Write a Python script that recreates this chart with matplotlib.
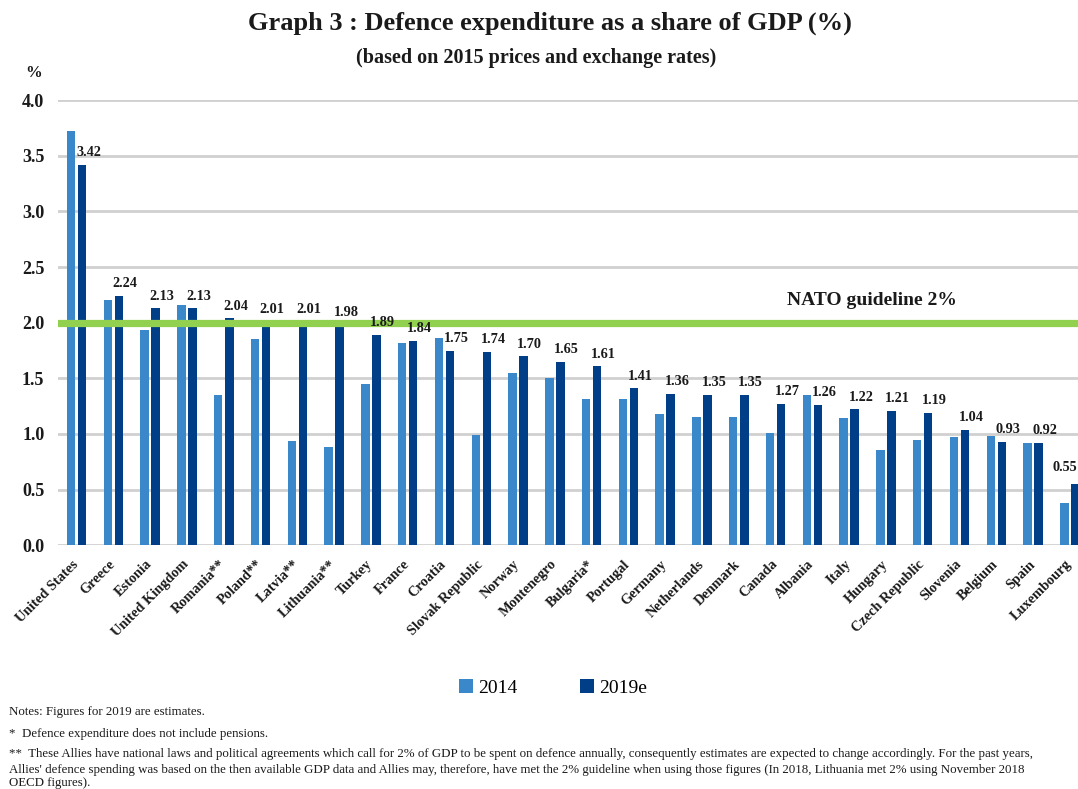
import matplotlib
matplotlib.use("Agg")
import matplotlib.pyplot as plt
from matplotlib.transforms import ScaledTranslation
import numpy as np

countries = ["United States", "Greece", "Estonia", "United Kingdom", "Romania**", "Poland**",
             "Latvia**", "Lithuania**", "Turkey", "France", "Croatia", "Slovak Republic",
             "Norway", "Montenegro", "Bulgaria*", "Portugal", "Germany", "Netherlands",
             "Denmark", "Canada", "Albania", "Italy", "Hungary", "Czech Republic",
             "Slovenia", "Belgium", "Spain", "Luxembourg"]
v2014 = [3.72, 2.20, 1.93, 2.16, 1.35, 1.85, 0.94, 0.88, 1.45, 1.82, 1.86, 0.99,
         1.55, 1.50, 1.31, 1.31, 1.18, 1.15, 1.15, 1.01, 1.35, 1.14, 0.86, 0.95,
         0.97, 0.98, 0.92, 0.38]
v2019 = [3.42, 2.24, 2.13, 2.13, 2.04, 2.01, 2.01, 1.98, 1.89, 1.84, 1.75, 1.74,
         1.70, 1.65, 1.61, 1.41, 1.36, 1.35, 1.35, 1.27, 1.26, 1.22, 1.21, 1.19,
         1.04, 0.93, 0.92, 0.55]
series_names = ["2014", "2019e"]
yticks = [0.0, 0.5, 1.0, 1.5, 2.0, 2.5, 3.0, 3.5, 4.0]
guideline = 2.0

SERIF = ["Liberation Serif", "DejaVu Serif"]
c14 = "#3A88C9"
c19 = "#003F87"
txt = "#1a1a1a"

fig = plt.figure(figsize=(10.78, 7.89), dpi=100)
# axes extends slightly past the right figure edge (last bar is cut, as in the original)
ax = fig.add_axes([0.054, 0.309, 0.9555, 0.564])

x = np.arange(len(countries))
w = 0.23
off = 0.15
ax.bar(x - off, v2014, width=w, color=c14, label=series_names[0], zorder=3)
ax.bar(x + off, v2019, width=w, color=c19, label=series_names[1], zorder=2)

n = len(countries)
for i, (xi, v) in enumerate(zip(x, v2019)):
    if i == n - 1:
        # keep the last label inside the figure
        ax.text(xi + 0.2, v + 0.09, f"{v:.2f}", ha="right", va="bottom",
                fontsize=10.3, fontweight="bold", family=SERIF, color=txt, zorder=5)
    else:
        ax.text(xi + off + 0.17, v + 0.05, f"{v:.2f}", ha="center", va="bottom",
                fontsize=10.3, fontweight="bold", family=SERIF, color=txt, zorder=5)

ax.axhline(guideline, color="#92D050", linewidth=5.2, zorder=4)
ax.text(21.62, 2.12, "NATO guideline 2%", ha="center", va="bottom", fontsize=14,
        fontweight="bold", family=SERIF, color=txt)

ax.set_xlim(-0.5, n - 0.5)
ax.set_ylim(0, 4.0)
ax.set_yticks(yticks)
ax.set_yticklabels([f"{t:.1f}" for t in yticks], fontsize=13, fontweight="bold",
                   family=SERIF, color=txt)
ax.yaxis.grid(True, color="#D0D0D0", linewidth=2.0, zorder=0)
ax.set_axisbelow(True)
ax.tick_params(axis="y", length=0, pad=10)
ax.tick_params(axis="x", length=0, pad=4)
ax.set_xticks(x)
ax.set_xticklabels(countries, rotation=45, ha="right", rotation_mode="anchor",
                   fontsize=10.3, fontweight="bold", family=SERIF, color=txt)
shift = ScaledTranslation(-3.5 / 72, -5 / 72, fig.dpi_scale_trans)
for lab in ax.get_xticklabels():
    lab.set_transform(lab.get_transform() + shift)
for s in ax.spines.values():
    s.set_visible(False)

fig.text(0.031, 0.908, "%", fontsize=12, fontweight="bold", family=SERIF, color=txt,
         ha="center", va="center")
fig.text(0.51, 0.970, "Graph 3 : Defence expenditure as a share of GDP (%)", ha="center",
         va="center", fontsize=19, fontweight="bold", family=SERIF, color=txt)
fig.text(0.497, 0.927, "(based on 2015 prices and exchange rates)", ha="center",
         va="center", fontsize=14.5, fontweight="bold", family=SERIF, color=txt)

fig.legend(loc="center", bbox_to_anchor=(0.513, 0.128), ncol=2, frameon=False,
           prop={"family": SERIF, "size": 14}, handlelength=0.75, handleheight=0.75,
           handletextpad=0.25, columnspacing=3.2)

notes = [
    (0.0976, "Notes: Figures for 2019 are estimates."),
    (0.0697, "*  Defence expenditure does not include pensions."),
    (0.0440, "**  These Allies have national laws and political agreements which call for 2% of GDP to be spent on defence annually, consequently estimates are expected to change accordingly. For the past years,"),
    (0.0245, "Allies' defence spending was based on the then available GDP data and Allies may, therefore, have met the 2% guideline when using those figures (In 2018, Lithuania met 2% using November 2018"),
    (0.0075, "OECD figures)."),
]
for yy, t in notes:
    fig.text(0.008, yy, t, fontsize=9.3, family=SERIF, color=txt, ha="left", va="center")

fig.savefig("out.png", dpi=100)
